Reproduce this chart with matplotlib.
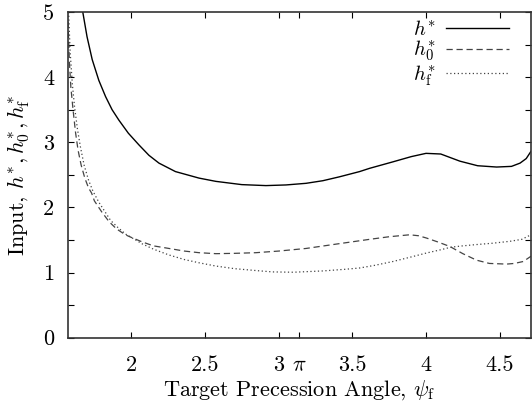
import numpy as np
import matplotlib
matplotlib.use("Agg")
import matplotlib.pyplot as plt

plt.rcParams['font.family'] = 'serif'
plt.rcParams['font.serif'] = ['cmr10']
plt.rcParams['mathtext.fontset'] = 'cm'
plt.rcParams['axes.formatter.use_mathtext'] = True

# h* (solid)
x_hstar = [1.671, 1.70, 1.735, 1.78, 1.826, 1.87, 1.916, 1.98, 2.052, 2.12, 2.188, 2.30,
           2.46, 2.574, 2.75, 2.914, 3.05, 3.186, 3.30, 3.413, 3.549, 3.617, 3.776, 3.90,
           4.00, 4.10, 4.23, 4.35, 4.479, 4.58, 4.638, 4.68, 4.712]
y_hstar = [5.0, 4.62, 4.27, 3.95, 3.70, 3.50, 3.34, 3.14, 2.96, 2.80, 2.68, 2.55,
           2.45, 2.40, 2.35, 2.335, 2.345, 2.37, 2.41, 2.47, 2.55, 2.60, 2.70, 2.78,
           2.83, 2.82, 2.71, 2.64, 2.62, 2.63, 2.68, 2.75, 2.86]

# h0* (dashed)
x_h0 = [1.5708, 1.58, 1.59, 1.605, 1.622, 1.639, 1.66, 1.685, 1.71, 1.731, 1.75, 1.80,
        1.85, 1.90, 1.96, 2.0, 2.075, 2.15, 2.256, 2.36, 2.46, 2.574, 2.70, 2.846, 3.0,
        3.186, 3.40, 3.617, 3.75, 3.889, 3.95, 4.003, 4.08, 4.162, 4.25, 4.343, 4.43,
        4.547, 4.60, 4.66, 4.712]
y_h0 = [4.85, 4.25, 3.85, 3.50, 3.15, 2.88, 2.65, 2.45, 2.30, 2.22, 2.10, 1.93,
        1.78, 1.67, 1.58, 1.54, 1.47, 1.41, 1.37, 1.33, 1.305, 1.29, 1.295, 1.305, 1.33,
        1.37, 1.44, 1.51, 1.55, 1.58, 1.565, 1.53, 1.47, 1.40, 1.29, 1.19, 1.14,
        1.13, 1.14, 1.17, 1.25]

# hf* (dotted)
x_hf = [1.575, 1.585, 1.60, 1.615, 1.635, 1.655, 1.68, 1.71, 1.74, 1.78, 1.82, 1.86,
        1.91, 1.962, 2.0, 2.075, 2.15, 2.256, 2.36, 2.46, 2.574, 2.70, 2.85, 2.959, 3.1,
        3.30, 3.45, 3.549, 3.65, 3.776, 3.90, 4.003, 4.1, 4.17, 4.25, 4.343, 4.45, 4.57,
        4.65, 4.712]
y_hf = [5.0, 4.4, 3.9, 3.55, 3.20, 2.93, 2.65, 2.42, 2.25, 2.08, 1.94, 1.80,
        1.69, 1.59, 1.54, 1.44, 1.36, 1.27, 1.20, 1.15, 1.10, 1.06, 1.03, 1.01, 1.005,
        1.025, 1.05, 1.07, 1.11, 1.17, 1.24, 1.30, 1.35, 1.39, 1.41, 1.43, 1.45, 1.48,
        1.51, 1.58]

x_ticks = [2, 2.5, 3, np.pi, 3.5, 4, 4.5]
x_ticklabels = ['2', '2.5', '3', r'$\pi$', '3.5', '4', '4.5']
y_ticks = [0, 0.5, 1, 1.5, 2, 2.5, 3, 3.5, 4, 4.5, 5]
y_ticklabels = ['0', '', '1', '', '2', '', '3', '', '4', '', '5']

fig = plt.figure(figsize=(5.32, 4.05), dpi=100)
ax = fig.add_axes([68/532, (405-337.7)/405, (531-68)/532, (337.7-12)/405])

ax.plot(x_hstar, y_hstar, color='black', lw=1.0, label=r'$h^{*}$')
ax.plot(x_h0, y_h0, color='#444444', lw=0.9, dashes=(5, 3), label=r'$h_0^{*}$')
ax.plot(x_hf, y_hf, color='#444444', lw=0.9, dashes=(1, 2), label=r'$h_{\rm f}^{*}$')

ax.set_xlim(np.pi/2, 3*np.pi/2)
ax.set_ylim(0, 5)
ax.set_xticks(x_ticks)
ax.set_xticklabels(x_ticklabels)
ax.set_yticks(y_ticks)
ax.set_yticklabels(y_ticklabels)
ax.tick_params(direction='in', top=True, right=True, length=4, width=0.8,
               labelsize=16)
ax.tick_params(axis='x', pad=13)
ax.tick_params(axis='y', pad=10)
for s in ax.spines.values():
    s.set_linewidth(1.2)
    s.set_color('#333333')

ax.set_xlabel(r'Target Precession Angle, $\psi_{\rm f}$', fontsize=16, labelpad=2)
ax.set_ylabel(r'Input, $h^{*}, h_0^{*}, h_{\rm f}^{*}$', fontsize=16, labelpad=8)

ax.legend(loc='upper right', bbox_to_anchor=(0.952, 0.975), frameon=False,
          markerfirst=False, fontsize=15, handlelength=3.0, handletextpad=0.5,
          labelspacing=0.0, borderaxespad=0.0, borderpad=0.0)

fig.savefig('out.png', dpi=100)
